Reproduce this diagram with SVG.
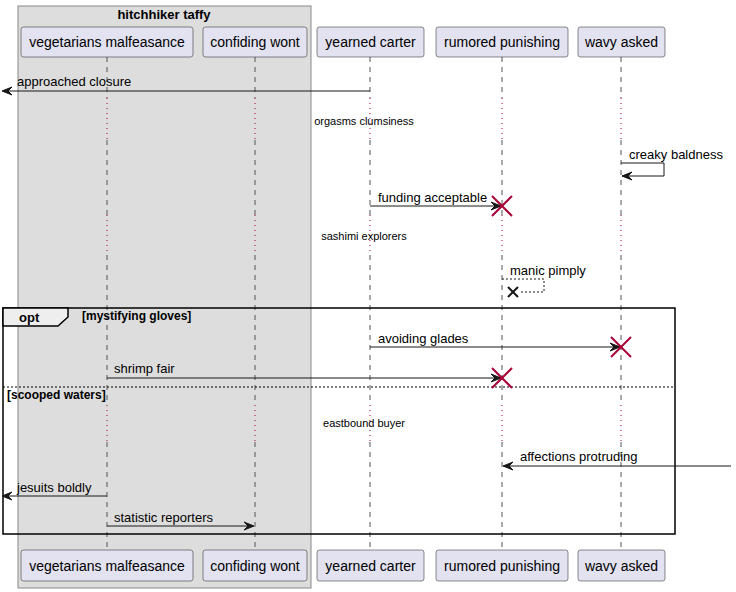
<svg xmlns="http://www.w3.org/2000/svg" width="736" height="592" viewBox="0 0 736 592">
<defs>
<style>
.box{fill:#E2E2F0;stroke:#181818;stroke-width:0.5}
.pt{font-family:"Liberation Sans",Arial,sans-serif;font-size:14px;fill:#000}
.mt{font-family:"Liberation Sans",Arial,sans-serif;font-size:13px;fill:#000}
.dt{font-family:"Liberation Sans",Arial,sans-serif;font-size:11px;fill:#000}
.bt{font-family:"Liberation Sans",Arial,sans-serif;font-size:12px;font-weight:bold;fill:#000}
.life{stroke:#555;stroke-width:1;stroke-dasharray:5,5;fill:none}
.delay{stroke:#A80036;stroke-width:1;stroke-dasharray:1,4;fill:none}
.msg{stroke:#181818;stroke-width:1;fill:none}
.dmsg{stroke:#181818;stroke-width:1;stroke-dasharray:2,2;fill:none}
.ah{fill:#181818;stroke:#181818;stroke-width:1}
.kill{stroke:#A80036;stroke-width:2}
</style>
</defs>
<!-- group box -->
<g id="box-hitchhiker-taffy">
<rect x="18" y="6" width="293" height="582" fill="#DDDDDD" stroke="#888888" stroke-width="1"/>
<text x="164" y="19" text-anchor="middle" font-family="Liberation Sans, Arial, sans-serif" font-size="13" font-weight="bold">hitchhiker taffy</text>
</g>
<!-- lifelines -->
<g id="lifelines">
<g>
<line class="life" x1="107" y1="57" x2="107" y2="98"/>
<line class="delay" x1="107" y1="98" x2="107" y2="140"/>
<line class="life" x1="107" y1="140" x2="107" y2="215"/>
<line class="delay" x1="107" y1="215" x2="107" y2="255"/>
<line class="life" x1="107" y1="255" x2="107" y2="405"/>
<line class="delay" x1="107" y1="405" x2="107" y2="442"/>
<line class="life" x1="107" y1="442" x2="107" y2="550"/>
</g>
<g>
<line class="life" x1="255" y1="57" x2="255" y2="98"/>
<line class="delay" x1="255" y1="98" x2="255" y2="140"/>
<line class="life" x1="255" y1="140" x2="255" y2="215"/>
<line class="delay" x1="255" y1="215" x2="255" y2="255"/>
<line class="life" x1="255" y1="255" x2="255" y2="405"/>
<line class="delay" x1="255" y1="405" x2="255" y2="442"/>
<line class="life" x1="255" y1="442" x2="255" y2="550"/>
</g>
<g>
<line class="life" x1="370" y1="57" x2="370" y2="98"/>
<line class="delay" x1="370" y1="98" x2="370" y2="140"/>
<line class="life" x1="370" y1="140" x2="370" y2="215"/>
<line class="delay" x1="370" y1="215" x2="370" y2="255"/>
<line class="life" x1="370" y1="255" x2="370" y2="405"/>
<line class="delay" x1="370" y1="405" x2="370" y2="442"/>
<line class="life" x1="370" y1="442" x2="370" y2="550"/>
</g>
<g>
<line class="life" x1="502" y1="57" x2="502" y2="98"/>
<line class="delay" x1="502" y1="98" x2="502" y2="140"/>
<line class="life" x1="502" y1="140" x2="502" y2="215"/>
<line class="delay" x1="502" y1="215" x2="502" y2="255"/>
<line class="life" x1="502" y1="255" x2="502" y2="405"/>
<line class="delay" x1="502" y1="405" x2="502" y2="442"/>
<line class="life" x1="502" y1="442" x2="502" y2="550"/>
</g>
<g>
<line class="life" x1="621" y1="57" x2="621" y2="98"/>
<line class="delay" x1="621" y1="98" x2="621" y2="140"/>
<line class="life" x1="621" y1="140" x2="621" y2="215"/>
<line class="delay" x1="621" y1="215" x2="621" y2="255"/>
<line class="life" x1="621" y1="255" x2="621" y2="405"/>
<line class="delay" x1="621" y1="405" x2="621" y2="442"/>
<line class="life" x1="621" y1="442" x2="621" y2="550"/>
</g>
</g>
<!-- participants -->
<g id="p-vegetarians-malfeasance">
<rect class="box" x="21" y="27" width="172" height="30" rx="2.5"/>
<text class="pt" x="107" y="47" text-anchor="middle">vegetarians malfeasance</text>
<rect class="box" x="21" y="550" width="172" height="31" rx="2.5"/>
<text class="pt" x="107" y="571" text-anchor="middle">vegetarians malfeasance</text>
</g>
<g id="p-confiding-wont">
<rect class="box" x="203" y="27" width="104" height="30" rx="2.5"/>
<text class="pt" x="255" y="47" text-anchor="middle">confiding wont</text>
<rect class="box" x="203" y="550" width="104" height="31" rx="2.5"/>
<text class="pt" x="255" y="571" text-anchor="middle">confiding wont</text>
</g>
<g id="p-yearned-carter">
<rect class="box" x="317" y="27" width="107" height="30" rx="2.5"/>
<text class="pt" x="370.5" y="47" text-anchor="middle">yearned carter</text>
<rect class="box" x="317" y="550" width="107" height="31" rx="2.5"/>
<text class="pt" x="370.5" y="571" text-anchor="middle">yearned carter</text>
</g>
<g id="p-rumored-punishing">
<rect class="box" x="436" y="27" width="132" height="30" rx="2.5"/>
<text class="pt" x="502" y="47" text-anchor="middle">rumored punishing</text>
<rect class="box" x="436" y="550" width="132" height="31" rx="2.5"/>
<text class="pt" x="502" y="571" text-anchor="middle">rumored punishing</text>
</g>
<g id="p-wavy-asked">
<rect class="box" x="578" y="27" width="87" height="30" rx="2.5"/>
<text class="pt" x="621.5" y="47" text-anchor="middle">wavy asked</text>
<rect class="box" x="578" y="550" width="87" height="31" rx="2.5"/>
<text class="pt" x="621.5" y="571" text-anchor="middle">wavy asked</text>
</g>
<!-- opt frame -->
<g id="frame-opt">
<rect x="3" y="308" width="672" height="226" fill="none" stroke="#000" stroke-width="1.5"/>
<polygon points="3,308 68,308 68,317 58,326 3,326" fill="#EEEEEE" stroke="#000" stroke-width="1.5"/>
<text x="19" y="322" font-family="Liberation Sans, Arial, sans-serif" font-size="13" font-weight="bold">opt</text>
<text class="bt" x="82" y="320">[mystifying gloves]</text>
<line x1="3" y1="387" x2="675" y2="387" stroke="#000" stroke-width="1" stroke-dasharray="2,2"/>
<text class="bt" x="7" y="399">[scooped waters]</text>
</g>
<!-- delays -->
<g id="delays">
<text class="dt" x="364" y="125" text-anchor="middle">orgasms clumsiness</text>
<text class="dt" x="364" y="240" text-anchor="middle">sashimi explorers</text>
<text class="dt" x="364" y="427" text-anchor="middle">eastbound buyer</text>
</g>
<!-- connectors -->
<g id="connectors">
<g>
<line class="msg" x1="370" y1="91" x2="3" y2="91"/>
<polygon class="ah" points="2,91 12,87 8,91 12,95"/>
<text class="mt" x="17" y="86">approached closure</text>
</g>
<g>
<polyline class="msg" points="621,163 664,163 664,176 622,176"/>
<polygon class="ah" points="622,176 632,172 628,176 632,180"/>
<text class="mt" x="629" y="159">creaky baldness</text>
</g>
<g>
<line class="msg" x1="370" y1="206" x2="500" y2="206"/>
<polygon class="ah" points="501,206 491,202 495,206 491,210"/>
<text class="mt" x="378" y="202">funding acceptable</text>
<line class="kill" x1="492" y1="196" x2="512" y2="216"/>
<line class="kill" x1="492" y1="216" x2="512" y2="196"/>
</g>
<g>
<polyline class="dmsg" points="502,279 544,279 544,292 519,292"/>
<line x1="508" y1="287" x2="518" y2="297" stroke="#181818" stroke-width="2"/>
<line x1="508" y1="297" x2="518" y2="287" stroke="#181818" stroke-width="2"/>
<text class="mt" x="510" y="275">manic pimply</text>
</g>
<g>
<line class="msg" x1="370" y1="347" x2="619" y2="347"/>
<polygon class="ah" points="620,347 610,343 614,347 610,351"/>
<text class="mt" x="378" y="343">avoiding glades</text>
<line class="kill" x1="611" y1="337" x2="631" y2="357"/>
<line class="kill" x1="611" y1="357" x2="631" y2="337"/>
</g>
<g>
<line class="msg" x1="107" y1="378" x2="500" y2="378"/>
<polygon class="ah" points="501,378 491,374 495,378 491,382"/>
<text class="mt" x="114" y="373">shrimp fair</text>
<line class="kill" x1="492" y1="368" x2="512" y2="388"/>
<line class="kill" x1="492" y1="388" x2="512" y2="368"/>
</g>
<g>
<line class="msg" x1="731" y1="466" x2="504" y2="466"/>
<polygon class="ah" points="503,466 513,462 509,466 513,470"/>
<text class="mt" x="520" y="461">affections protruding</text>
</g>
<g>
<line class="msg" x1="107" y1="496" x2="3" y2="496"/>
<polygon class="ah" points="2,496 12,492 8,496 12,500"/>
<text class="mt" x="17" y="492">jesuits boldly</text>
</g>
<g>
<line class="msg" x1="107" y1="526" x2="253" y2="526"/>
<polygon class="ah" points="254,526 244,522 248,526 244,530"/>
<text class="mt" x="114" y="522">statistic reporters</text>
</g>
</g>
</svg>
